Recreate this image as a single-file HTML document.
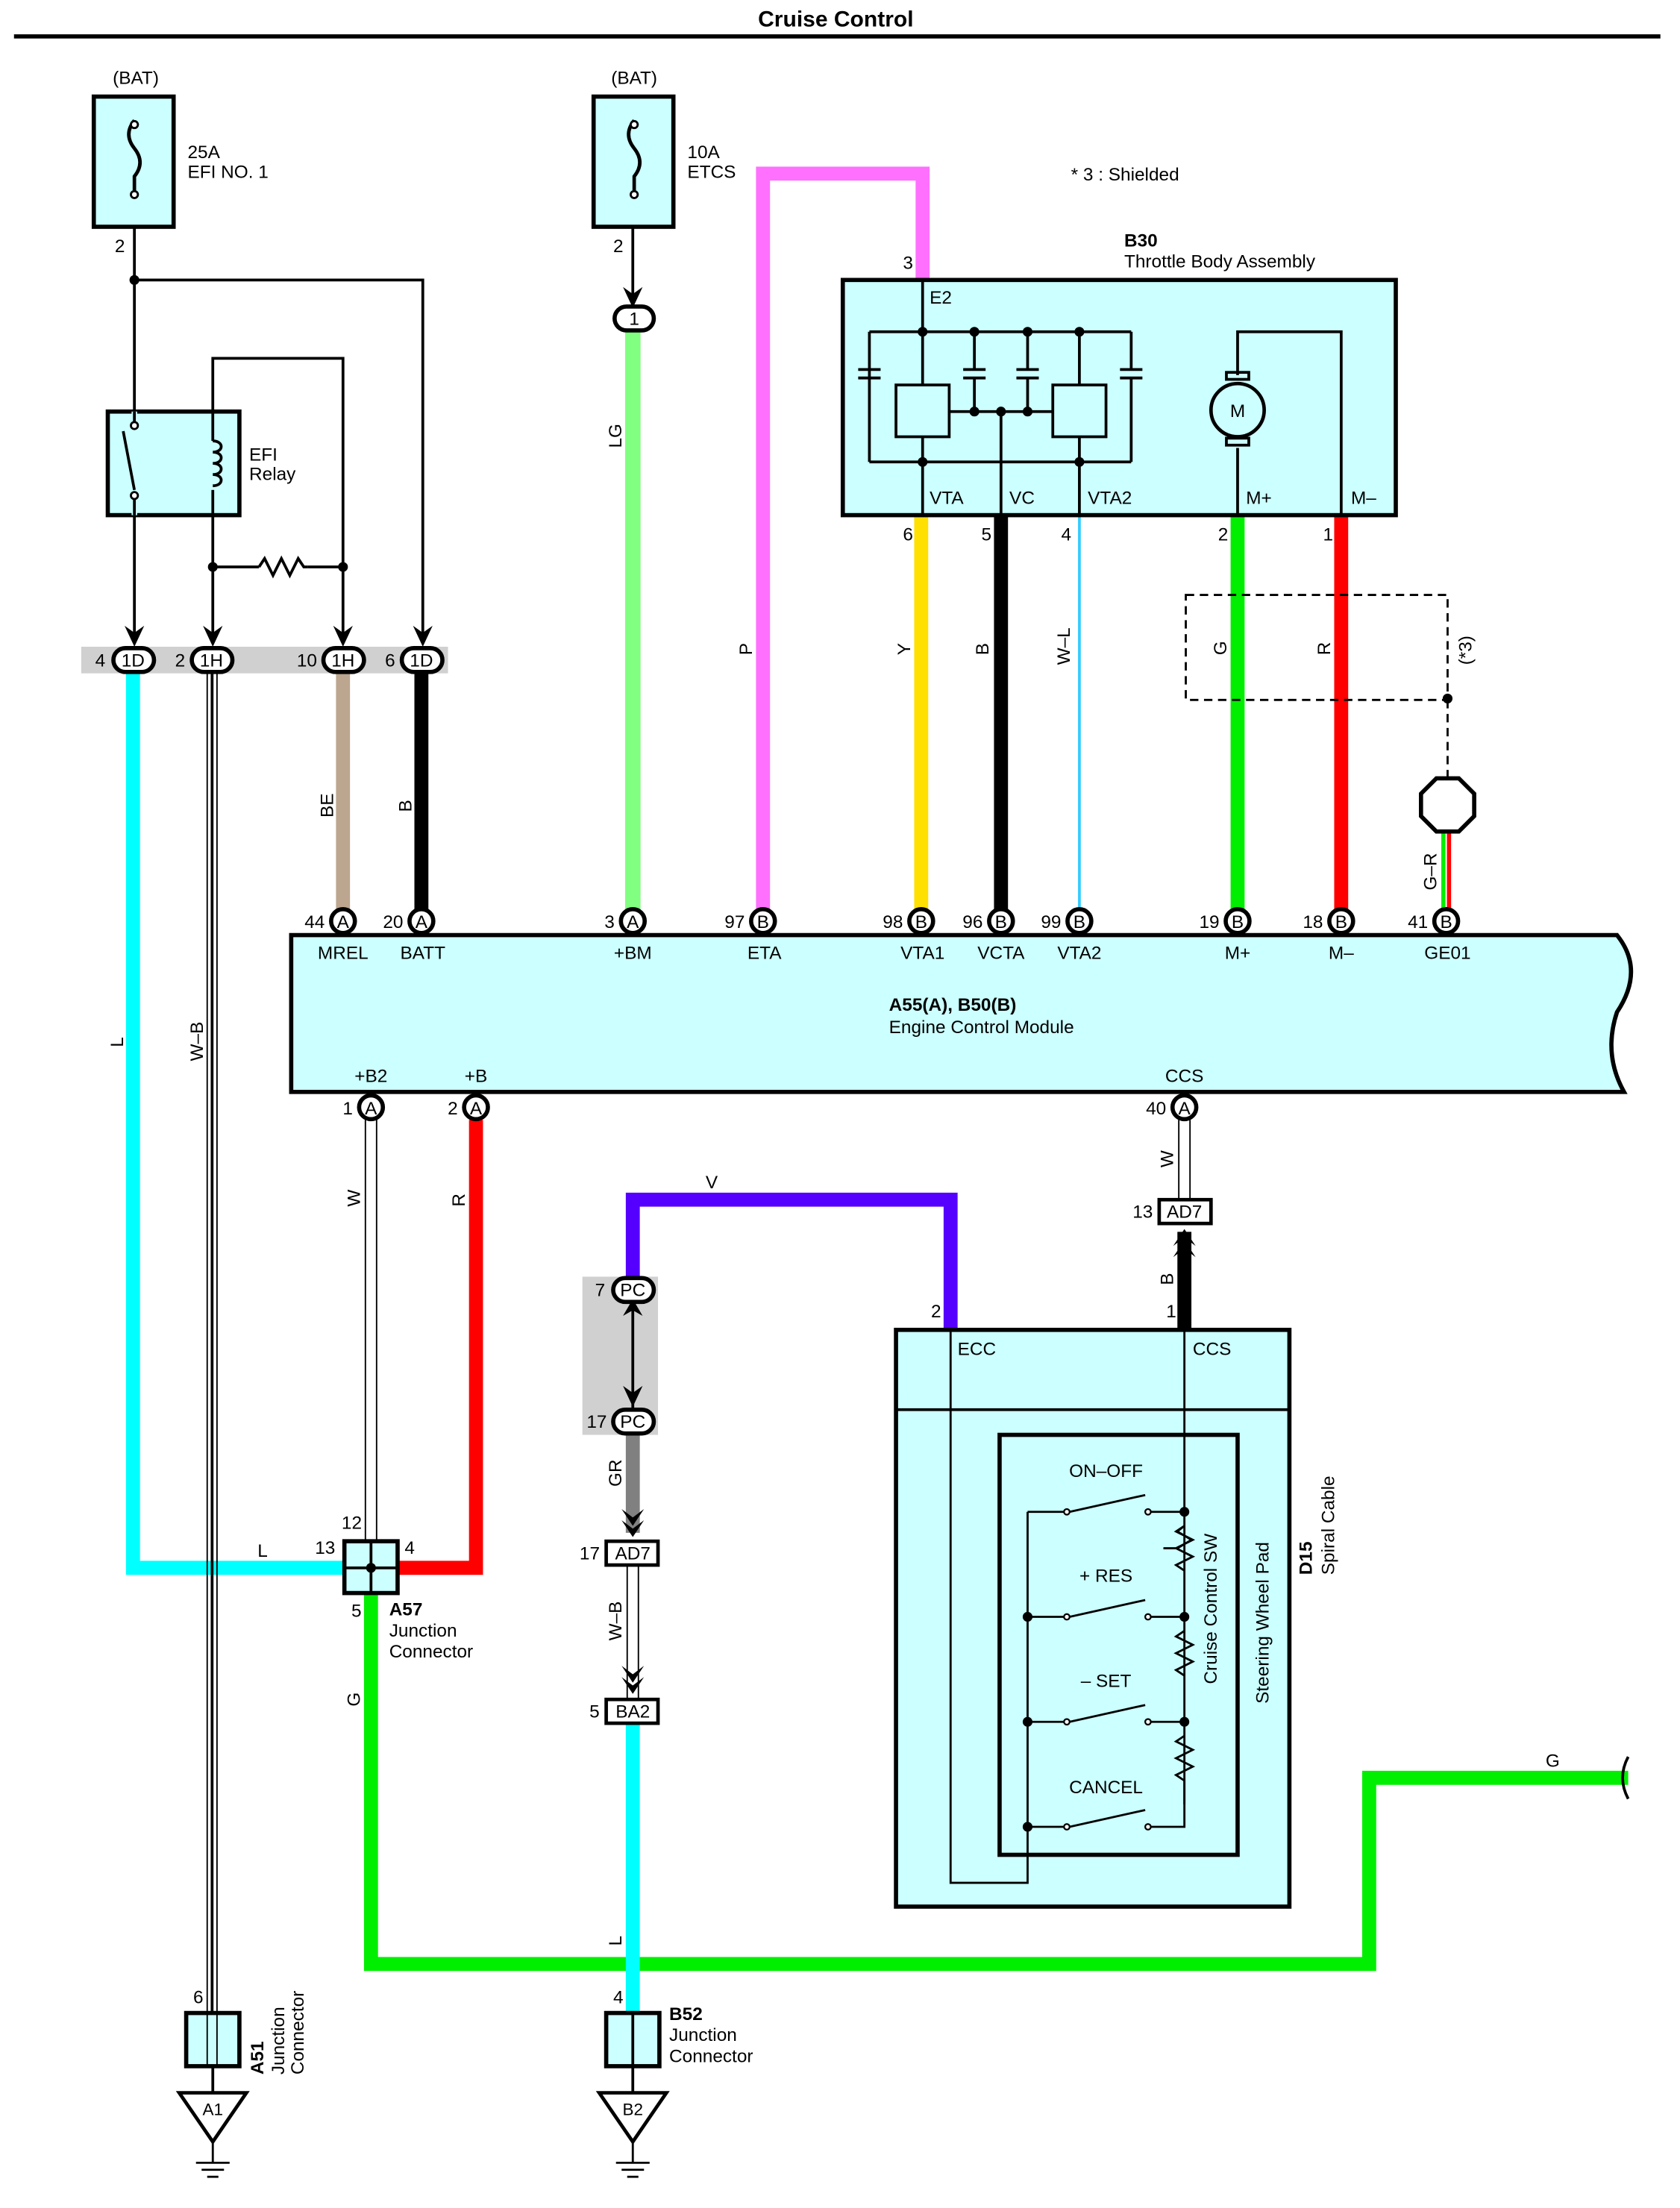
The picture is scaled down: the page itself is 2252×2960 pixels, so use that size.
<!DOCTYPE html>
<html><head><meta charset="utf-8"><style>
html,body{margin:0;padding:0;background:#fff}
svg{display:block}
text{font-family:"Liberation Sans",Arial,sans-serif;font-size:13px;fill:#000}
.b{font-weight:bold}
</style></head><body>
<svg width="2252" height="2960" viewBox="0 0 1200 1577.3" preserveAspectRatio="none" xmlns="http://www.w3.org/2000/svg">
<defs>
<marker id="ar" viewBox="0 0 10 10" refX="5" refY="9" markerWidth="5" markerHeight="5" orient="auto"><path d="M0,0 L5,10 L10,0 L5,4 Z" fill="#000"/></marker>
</defs>
<rect width="1200" height="1578" fill="#fff"/>
<text x="597" y="19" text-anchor="middle" class="b" font-size="16" style="font-size:16px">Cruise Control</text>
<line x1="10" y1="26" x2="1186" y2="26" stroke="#000" stroke-width="3"/>

<!-- gray bands -->
<rect x="58" y="462" width="262" height="19" fill="#d0d0d0"/>
<rect x="416" y="912" width="54" height="113" fill="#d0d0d0"/>

<!-- colored wires -->
<g fill="none" stroke-linejoin="miter">
<polyline points="95,481 95,1120 245,1120" stroke="#00ffff" stroke-width="10"/>
<line x1="245" y1="481" x2="245" y2="650" stroke="#bca68f" stroke-width="10"/>
<line x1="301" y1="481" x2="301" y2="650" stroke="#000" stroke-width="10"/>
<line x1="452" y1="237" x2="452" y2="650" stroke="#80ff80" stroke-width="11"/>
<polyline points="545,650 545,124 659,124 659,200" stroke="#ff70ff" stroke-width="10"/>
<line x1="658" y1="368" x2="658" y2="650" stroke="#ffe000" stroke-width="10"/>
<line x1="715" y1="368" x2="715" y2="650" stroke="#000" stroke-width="10"/>
<line x1="771" y1="368" x2="771" y2="650" stroke="#fff" stroke-width="7"/>
<line x1="771" y1="368" x2="771" y2="650" stroke="#33ccff" stroke-width="2"/>
<line x1="884" y1="368" x2="884" y2="650" stroke="#00ee00" stroke-width="10"/>
<line x1="958" y1="368" x2="958" y2="650" stroke="#ff0000" stroke-width="10"/>
<line x1="1031" y1="592" x2="1031" y2="650" stroke="#00ee00" stroke-width="3"/>
<line x1="1035" y1="592" x2="1035" y2="650" stroke="#ff0000" stroke-width="3"/>
<polyline points="340,800 340,1120 285,1120" stroke="#ff0000" stroke-width="10"/>
<polyline points="265,1138 265,1403 978,1403 978,1270 1163,1270" stroke="#00ee00" stroke-width="10"/>
<polyline points="452,915 452,857 679,857 679,950" stroke="#5500ff" stroke-width="10"/>
<line x1="452" y1="1025" x2="452" y2="1095" stroke="#808080" stroke-width="10"/>
<line x1="452" y1="1231" x2="452" y2="1438" stroke="#00ffff" stroke-width="10"/>
<line x1="846" y1="880" x2="846" y2="950" stroke="#000" stroke-width="10"/>
</g>
<!-- double-line (white) wires -->
<g fill="none" stroke="#000" stroke-width="1">
<line x1="148" y1="481" x2="148" y2="1440"/><line x1="155" y1="481" x2="155" y2="1440"/>
<line x1="151.5" y1="481" x2="151.5" y2="1440" stroke-width="2"/>
<line x1="261" y1="800" x2="261" y2="1100"/><line x1="269" y1="800" x2="269" y2="1100"/>
<line x1="842" y1="800" x2="842" y2="857"/><line x1="850" y1="800" x2="850" y2="857"/>
<line x1="448" y1="1117" x2="448" y2="1214"/><line x1="456" y1="1117" x2="456" y2="1214"/>
</g>
<path d="M1163,1255 q-8,15 0,30" fill="none" stroke="#000" stroke-width="2"/>

<!-- black thin wiring -->
<g fill="none" stroke="#000" stroke-width="2">
<polyline points="96,162 96,455"/>
<polyline points="96,200 302,200 302,455"/>
<polyline points="152,455 152,256 245,256 245,455"/>
<line x1="152" y1="405" x2="185" y2="405"/><line x1="220" y1="405" x2="245" y2="405"/>
<polyline points="185,405 189,399 195,411 201,399 207,411 213,399 217,405 220,405"/>
<line x1="452" y1="162" x2="452" y2="218"/>
<line x1="452" y1="930" x2="452" y2="1007"/>
</g>
<g fill="#000"><circle cx="96" cy="200" r="3.5"/><circle cx="152" cy="405" r="3.5"/><circle cx="245" cy="405" r="3.5"/></g>
<!-- arrowheads -->
<g fill="#000">
<path d="M89,447 L96,462 L103,447 L96,452Z"/><path d="M145,447 L152,462 L159,447 L152,452Z"/>
<path d="M238,447 L245,462 L252,447 L245,452Z"/><path d="M295,447 L302,462 L309,447 L302,452Z"/>
<path d="M445,205 L452,220 L459,205 L452,210Z"/>
<path d="M445,940 L452,928 L459,940 L452,936Z"/><path d="M445,990 L452,1005 L459,990 L452,995Z"/>
<path d="M444,1078 L452,1090 L460,1078 L452,1084Z M444,1086 L452,1098 L460,1086 L452,1092Z" />
<path d="M444,1190 L452,1202 L460,1190 L452,1196Z M444,1198 L452,1210 L460,1198 L452,1204Z"/>
<path d="M838,890 L846,878 L854,890 L846,884Z M838,898 L846,886 L854,898 L846,892Z"/>
</g>

<!-- fuses -->
<g stroke="#000" stroke-width="3" fill="#ccffff">
<rect x="67" y="69" width="57" height="93"/><rect x="424" y="69" width="57" height="93"/>
</g>
<g fill="none" stroke="#000" stroke-width="2.5">
<path d="M96,86 q-8,10 0,20 q8,10 0,20 v10"/><path d="M453,86 q-8,10 0,20 q8,10 0,20 v10"/>
</g>
<g fill="#fff" stroke="#000" stroke-width="1.5"><circle cx="96" cy="89" r="2.5"/><circle cx="96" cy="139" r="2.5"/><circle cx="453" cy="89" r="2.5"/><circle cx="453" cy="139" r="2.5"/></g>
<text x="97" y="60" text-anchor="middle">(BAT)</text><text x="453" y="60" text-anchor="middle">(BAT)</text>
<text x="134" y="113">25A</text><text x="134" y="127">EFI NO. 1</text>
<text x="491" y="113">10A</text><text x="491" y="127">ETCS</text>
<text x="82" y="180">2</text><text x="438" y="180">2</text>

<!-- relay -->
<rect x="77" y="294" width="94" height="74" fill="#ccffff" stroke="#000" stroke-width="3"/>
<g fill="none" stroke="#000" stroke-width="2">
<line x1="96" y1="294" x2="96" y2="368" stroke="#ccffff" stroke-width="4"/>
<line x1="96" y1="294" x2="96" y2="302"/><line x1="96" y1="356" x2="96" y2="368"/>
<line x1="88" y1="308" x2="96" y2="350"/>
<line x1="152" y1="294" x2="152" y2="315"/><line x1="152" y1="350" x2="152" y2="368"/>
<path d="M152,315 c8,0 8,8 0,8 c8,0 8,8 0,8 c8,0 8,8 0,8 c8,0 8,8 0,8"/>
</g>
<g fill="#fff" stroke="#000" stroke-width="1.5"><circle cx="96" cy="304" r="2.5"/><circle cx="96" cy="354" r="2.5"/></g>
<text x="178" y="329">EFI</text><text x="178" y="343">Relay</text>

<!-- 1D/1H connectors -->
<g stroke="#000" stroke-width="3" fill="#fff">
<rect x="81" y="463" width="29" height="17" rx="8.5"/><rect x="137" y="463" width="29" height="17" rx="8.5"/>
<rect x="231" y="463" width="29" height="17" rx="8.5"/><rect x="287" y="463" width="29" height="17" rx="8.5"/>
<rect x="439" y="219" width="28" height="17" rx="8.5"/>
<rect x="438" y="913" width="29" height="17" rx="8.5"/><rect x="438" y="1007" width="29" height="17" rx="8.5"/>
</g>
<g text-anchor="middle"><text x="95" y="476">1D</text><text x="151" y="476">1H</text><text x="245" y="476">1H</text><text x="301" y="476">1D</text>
<text x="453" y="232">1</text><text x="452" y="926">PC</text><text x="452" y="1020">PC</text></g>
<text x="68" y="476">4</text><text x="125" y="476">2</text><text x="212" y="476">10</text><text x="275" y="476">6</text>
<text x="425" y="926">7</text><text x="419" y="1020">17</text>

<!-- wire labels rotated -->
<g>
<text transform="translate(444,320) rotate(-90)">LG</text>
<text transform="translate(537,468) rotate(-90)">P</text>
<text transform="translate(650,468) rotate(-90)">Y</text>
<text transform="translate(706,468) rotate(-90)">B</text>
<text transform="translate(764,475) rotate(-90)">W–L</text>
<text transform="translate(876,468) rotate(-90)">G</text>
<text transform="translate(950,468) rotate(-90)">R</text>
<text transform="translate(1051,475) rotate(-90)">(*3)</text>
<text transform="translate(1026,636) rotate(-90)">G–R</text>
<text transform="translate(238,584) rotate(-90)">BE</text>
<text transform="translate(294,580) rotate(-90)">B</text>
<text transform="translate(88,748) rotate(-90)">L</text>
<text transform="translate(145,758) rotate(-90)">W–B</text>
<text transform="translate(257,862) rotate(-90)">W</text>
<text transform="translate(332,862) rotate(-90)">R</text>
<text transform="translate(838,834) rotate(-90)">W</text>
<text transform="translate(838,918) rotate(-90)">B</text>
<text transform="translate(444,1062) rotate(-90)">GR</text>
<text transform="translate(444,1172) rotate(-90)">W–B</text>
<text transform="translate(444,1390) rotate(-90)">L</text>
<text transform="translate(257,1219) rotate(-90)">G</text>
</g>
<text x="184" y="1112">L</text><text x="504" y="849">V</text><text x="1104" y="1262">G</text>

<!-- B30 -->
<text x="765" y="129">* 3 : Shielded</text>
<text x="803" y="176" class="b" style="font-weight:bold">B30</text>
<text x="803" y="191">Throttle Body Assembly</text>
<rect x="602" y="200" width="395" height="168" fill="#ccffff" stroke="#000" stroke-width="3"/>
<text x="645" y="192">3</text><text x="664" y="217">E2</text>
<g fill="none" stroke="#000" stroke-width="2">
<line x1="659" y1="200" x2="659" y2="237"/>
<polyline points="621,237 808,237"/>
<line x1="621" y1="237" x2="621" y2="330"/><line x1="613" y1="264" x2="629" y2="264"/><line x1="613" y1="270" x2="629" y2="270"/>
<line x1="621" y1="330" x2="808" y2="330"/>
<line x1="659" y1="237" x2="659" y2="275"/><rect x="640" y="275" width="38" height="37"/><line x1="659" y1="312" x2="659" y2="368"/>
<line x1="771" y1="237" x2="771" y2="275"/><rect x="752" y="275" width="38" height="37"/><line x1="771" y1="312" x2="771" y2="368"/>
<line x1="696" y1="237" x2="696" y2="264"/><line x1="688" y1="264" x2="704" y2="264"/><line x1="688" y1="270" x2="704" y2="270"/><line x1="696" y1="270" x2="696" y2="294"/>
<line x1="734" y1="237" x2="734" y2="264"/><line x1="726" y1="264" x2="742" y2="264"/><line x1="726" y1="270" x2="742" y2="270"/><line x1="734" y1="270" x2="734" y2="294"/>
<line x1="808" y1="237" x2="808" y2="264"/><line x1="800" y1="264" x2="816" y2="264"/><line x1="800" y1="270" x2="816" y2="270"/><line x1="808" y1="270" x2="808" y2="330"/>
<polyline points="678,294 752,294"/><line x1="715" y1="294" x2="715" y2="368"/>
<polyline points="884,368 884,320"/><polyline points="884,268 884,237 958,237 958,368"/>
<rect x="876" y="266" width="16" height="5"/><rect x="876" y="313" width="16" height="5"/>
</g>
<circle cx="884" cy="293" r="19" fill="#ccffff" stroke="#000" stroke-width="2.5"/>
<text x="884" y="298" text-anchor="middle">M</text>
<g fill="#000"><circle cx="659" cy="237" r="3.5"/><circle cx="696" cy="237" r="3.5"/><circle cx="734" cy="237" r="3.5"/><circle cx="771" cy="237" r="3.5"/>
<circle cx="659" cy="330" r="3.5"/><circle cx="771" cy="330" r="3.5"/><circle cx="696" cy="294" r="3.5"/><circle cx="715" cy="294" r="3.5"/><circle cx="734" cy="294" r="3.5"/>
<circle cx="1034" cy="499" r="3.5"/></g>
<text x="664" y="360">VTA</text><text x="721" y="360">VC</text><text x="777" y="360">VTA2</text><text x="890" y="360">M+</text><text x="965" y="360">M–</text>
<text x="645" y="386">6</text><text x="701" y="386">5</text><text x="758" y="386">4</text><text x="870" y="386">2</text><text x="945" y="386">1</text>

<!-- shield -->
<rect x="847" y="425" width="187" height="75" fill="none" stroke="#000" stroke-width="1.5" stroke-dasharray="6,4"/>
<line x1="1034" y1="500" x2="1034" y2="557" stroke="#000" stroke-width="1.5" stroke-dasharray="6,4"/>
<polygon points="1026,556 1042,556 1053,567 1053,583 1042,594 1026,594 1015,583 1015,567" fill="#fff" stroke="#000" stroke-width="3"/>

<!-- ECM -->
<path d="M208,668 L1155,668 q20,25 0,55 q-10,30 5,57 L208,780 Z" fill="#ccffff" stroke="#000" stroke-width="3"/>
<g stroke="#000" stroke-width="3" fill="#fff">
<circle cx="245" cy="658" r="8.5"/><circle cx="301" cy="658" r="8.5"/><circle cx="452" cy="658" r="8.5"/><circle cx="545" cy="658" r="8.5"/>
<circle cx="658" cy="658" r="8.5"/><circle cx="715" cy="658" r="8.5"/><circle cx="771" cy="658" r="8.5"/><circle cx="884" cy="658" r="8.5"/>
<circle cx="958" cy="658" r="8.5"/><circle cx="1033" cy="658" r="8.5"/>
<circle cx="265" cy="791" r="8.5"/><circle cx="340" cy="791" r="8.5"/><circle cx="846" cy="791" r="8.5"/>
</g>
<g text-anchor="middle" style="font-size:12px">
<text x="245" y="663">A</text><text x="301" y="663">A</text><text x="452" y="663">A</text><text x="545" y="663">B</text><text x="658" y="663">B</text><text x="715" y="663">B</text><text x="771" y="663">B</text><text x="884" y="663">B</text><text x="958" y="663">B</text><text x="1033" y="663">B</text>
<text x="265" y="796">A</text><text x="340" y="796">A</text><text x="846" y="796">A</text>
</g>
<g text-anchor="end">
<text x="232" y="663">44</text><text x="288" y="663">20</text><text x="439" y="663">3</text><text x="532" y="663">97</text><text x="645" y="663">98</text><text x="702" y="663">96</text><text x="758" y="663">99</text><text x="871" y="663">19</text><text x="945" y="663">18</text><text x="1020" y="663">41</text>
<text x="252" y="796">1</text><text x="327" y="796">2</text><text x="833" y="796">40</text>
</g>
<g text-anchor="middle">
<text x="245" y="685">MREL</text><text x="302" y="685">BATT</text><text x="452" y="685">+BM</text><text x="546" y="685">ETA</text><text x="659" y="685">VTA1</text><text x="715" y="685">VCTA</text><text x="771" y="685">VTA2</text><text x="884" y="685">M+</text><text x="958" y="685">M–</text><text x="1034" y="685">GE01</text>
<text x="265" y="773">+B2</text><text x="340" y="773">+B</text><text x="846" y="773">CCS</text>
</g>
<text x="635" y="722" style="font-weight:bold">A55(A), B50(B)</text>
<text x="635" y="738">Engine Control Module</text>

<!-- small boxes -->
<g stroke="#000" stroke-width="2.5" fill="#fff">
<rect x="828" y="857" width="37" height="17"/><rect x="433" y="1101" width="37" height="17"/><rect x="433" y="1214" width="37" height="17"/>
</g>
<g text-anchor="middle"><text x="846" y="870">AD7</text><text x="452" y="1114">AD7</text><text x="452" y="1227">BA2</text></g>
<text x="809" y="870">13</text><text x="414" y="1114">17</text><text x="421" y="1227">5</text>

<!-- A57 -->
<rect x="246" y="1101" width="38" height="37" fill="#ccffff" stroke="#000" stroke-width="3"/>
<line x1="265" y1="1101" x2="265" y2="1138" stroke="#000" stroke-width="2"/><line x1="246" y1="1120" x2="284" y2="1120" stroke="#000" stroke-width="2"/>
<circle cx="265" cy="1120" r="3.5" fill="#000"/>
<text x="244" y="1092">12</text><text x="225" y="1110">13</text><text x="289" y="1110">4</text><text x="251" y="1155">5</text>
<text x="278" y="1154" style="font-weight:bold">A57</text><text x="278" y="1169">Junction</text><text x="278" y="1184">Connector</text>

<!-- D15 -->
<rect x="640" y="950" width="281" height="412" fill="#ccffff" stroke="#000" stroke-width="3"/>
<line x1="640" y1="1007" x2="921" y2="1007" stroke="#000" stroke-width="2"/>
<rect x="714" y="1025" width="170" height="300" fill="#ccffff" stroke="#000" stroke-width="3"/>
<text x="665" y="941">2</text><text x="833" y="941">1</text>
<text x="684" y="968">ECC</text><text x="852" y="968">CCS</text>
<g fill="none" stroke="#000" stroke-width="1.5">
<polyline points="679,950 679,1345 734,1345 734,1080"/>
<polyline points="846,950 846,1080 846,1305 820,1305"/>
<line x1="734" y1="1080" x2="760" y2="1080"/><line x1="764" y1="1080" x2="818" y2="1068"/><line x1="822" y1="1080" x2="846" y2="1080"/>
<line x1="734" y1="1155" x2="760" y2="1155"/><line x1="764" y1="1155" x2="818" y2="1143"/><line x1="822" y1="1155" x2="846" y2="1155"/>
<line x1="734" y1="1230" x2="760" y2="1230"/><line x1="764" y1="1230" x2="818" y2="1218"/><line x1="822" y1="1230" x2="846" y2="1230"/>
<line x1="734" y1="1305" x2="760" y2="1305"/><line x1="764" y1="1305" x2="818" y2="1293"/>
<path d="M846,1090 l-5,4 l10,6 l-10,6 l-10,0 M846,1090 l-6,4 l12,6 l-12,6 l12,6 l-12,6 l6,4" />
<path d="M846,1165 l-6,4 l12,6 l-12,6 l12,6 l-12,6 l6,4"/>
<path d="M846,1240 l-6,4 l12,6 l-12,6 l12,6 l-12,6 l6,4 v17"/>
</g>
<g fill="#000"><circle cx="846" cy="1080" r="3.5"/><circle cx="846" cy="1155" r="3.5"/><circle cx="846" cy="1230" r="3.5"/><circle cx="734" cy="1155" r="3.5"/><circle cx="734" cy="1230" r="3.5"/><circle cx="734" cy="1305" r="3.5"/></g>
<g fill="#fff" stroke="#000" stroke-width="1.2"><circle cx="762" cy="1080" r="2"/><circle cx="820" cy="1080" r="2"/><circle cx="762" cy="1155" r="2"/><circle cx="820" cy="1155" r="2"/><circle cx="762" cy="1230" r="2"/><circle cx="820" cy="1230" r="2"/><circle cx="762" cy="1305" r="2"/><circle cx="820" cy="1305" r="2"/></g>
<g text-anchor="middle"><text x="790" y="1055">ON–OFF</text><text x="790" y="1130">+ RES</text><text x="790" y="1205">– SET</text><text x="790" y="1281">CANCEL</text></g>
<text transform="translate(869,1203) rotate(-90)">Cruise Control SW</text>
<text transform="translate(906,1217) rotate(-90)">Steering Wheel Pad</text>
<text transform="translate(937,1125) rotate(-90)" style="font-weight:bold">D15</text>
<text transform="translate(953,1125) rotate(-90)">Spiral Cable</text>

<!-- bottom junctions/grounds -->
<rect x="133" y="1438" width="38" height="38" fill="#ccffff" stroke="#000" stroke-width="3"/>
<line x1="148" y1="1438" x2="148" y2="1476" stroke="#000"/><line x1="155" y1="1438" x2="155" y2="1476" stroke="#000"/>
<rect x="433" y="1438" width="38" height="38" fill="#ccffff" stroke="#000" stroke-width="3"/>
<line x1="452" y1="1438" x2="452" y2="1476" stroke="#000" stroke-width="2"/>
<line x1="152" y1="1476" x2="152" y2="1495" stroke="#000" stroke-width="2"/><line x1="452" y1="1476" x2="452" y2="1495" stroke="#000" stroke-width="2"/>
<g fill="#fff" stroke="#000" stroke-width="2.5"><polygon points="128,1495 176,1495 152,1530"/><polygon points="428,1495 476,1495 452,1530"/></g>
<g stroke="#000" stroke-width="1.5"><line x1="152" y1="1530" x2="152" y2="1545"/><line x1="140" y1="1545" x2="164" y2="1545"/><line x1="144" y1="1550" x2="160" y2="1550"/><line x1="148" y1="1555" x2="156" y2="1555"/>
<line x1="452" y1="1530" x2="452" y2="1545"/><line x1="440" y1="1545" x2="464" y2="1545"/><line x1="444" y1="1550" x2="460" y2="1550"/><line x1="448" y1="1555" x2="456" y2="1555"/></g>
<text x="152" y="1511" text-anchor="middle" style="font-size:12px">A1</text><text x="452" y="1511" text-anchor="middle" style="font-size:12px">B2</text>
<text x="138" y="1431">6</text><text x="438" y="1431">4</text>
<text transform="translate(188,1482) rotate(-90)" style="font-weight:bold">A51</text>
<text transform="translate(203,1482) rotate(-90)">Junction</text>
<text transform="translate(217,1482) rotate(-90)">Connector</text>
<text x="478" y="1443" style="font-weight:bold">B52</text><text x="478" y="1458">Junction</text><text x="478" y="1473">Connector</text>
</svg>
</body></html>
